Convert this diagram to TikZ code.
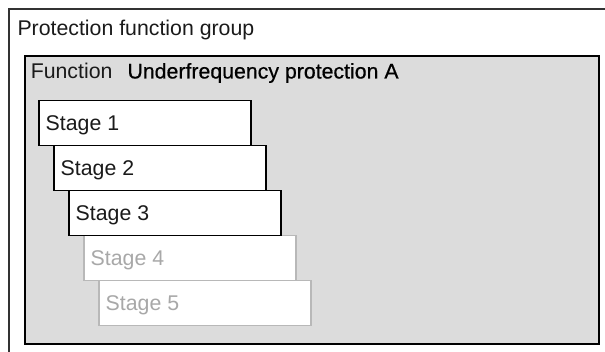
\documentclass[tikz,border=0pt]{standalone}
\usepackage{fontspec}
\setmainfont{Liberation Sans}
\newfontfamily\boldish[FakeBold=0.5]{Liberation Sans}
\definecolor{outerline}{HTML}{333333}
\definecolor{panelgray}{HTML}{DCDCDC}
\definecolor{fadegray}{HTML}{B8B8B8}
\definecolor{fadetext}{HTML}{A8A8A8}
\definecolor{textdark}{HTML}{1A1A1A}
\begin{document}
\begin{tikzpicture}[x=1pt,y=1pt,
  stagebox/.style={draw=black, line width=1.3pt, fill=white, minimum width=212pt, minimum height=45pt, anchor=north west, inner sep=0pt, outer sep=0pt},
  lbl/.style={anchor=base west, inner sep=0pt, outer sep=0pt, text=textdark, font=\fontsize{21.3}{25}\selectfont},
]
\useasboundingbox (0,0) rectangle (605,352);
\coordinate (obl) at (9,-5);
\coordinate (otl) at (9,342.5);
\coordinate (otr) at (615,342.5);
\draw[line width=2pt, color=outerline] (obl) -- (otl) -- (otr);
\node[lbl] (title) at (17.5,316.5) {Protection function group};
\node[draw=black, line width=2pt, fill=panelgray, anchor=north west, minimum width=574.5pt, minimum height=287.7pt, inner sep=0pt] (panel) at (23.5,297) {};
\node[lbl] (fn) at (30.8,273.5) {Function};
\node[lbl, text=black, font=\boldish\fontsize{21.3}{25}\selectfont] (fname) at (127.5,273.5) {Underfrequency protection A};
\foreach \i/\c/\t in {4/fadegray/fadetext, 3/fadegray/fadetext, 2/black/textdark, 1/black/textdark, 0/black/textdark} {
  \pgfmathtruncatemacro{\n}{\i+1}
  \node[stagebox, draw=\c] (s\i) at ({39+15*\i},{251.3-45*\i}) {};
  \node[lbl, text=\t] (t\i) at ([xshift=6.7pt, yshift=-30.3pt]s\i.north west) {Stage \n};
}
\end{tikzpicture}
\end{document}
